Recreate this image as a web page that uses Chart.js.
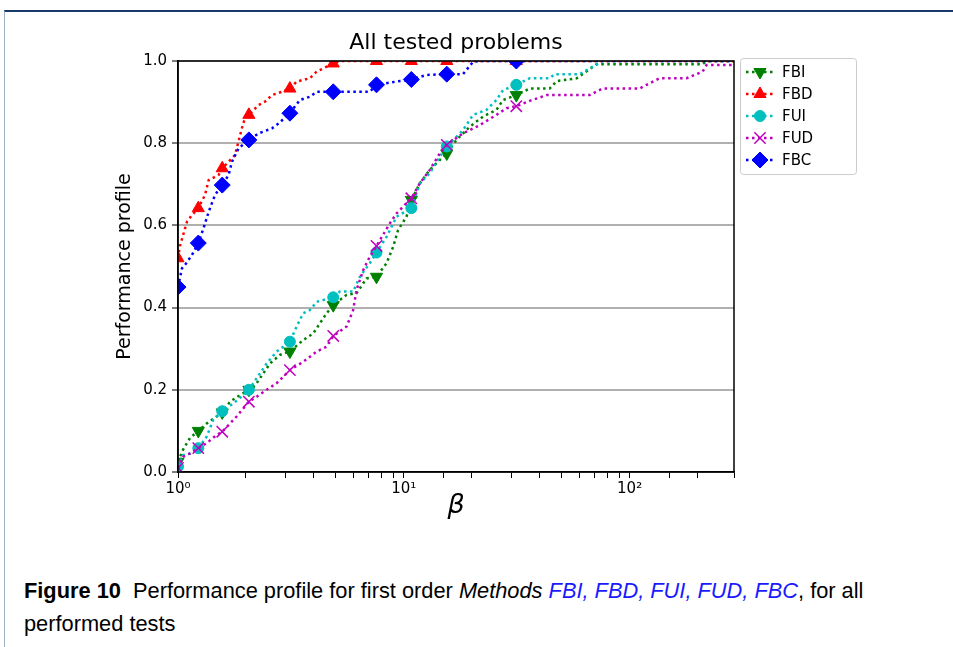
<!DOCTYPE html>
<html>
<head>
<meta charset="utf-8">
<script src="https://cdn.jsdelivr.net/npm/chart.js@4.4.1/dist/chart.umd.min.js"></script>
<style>
  html, body { margin: 0; padding: 0; background: #fff; }
  body { width: 953px; height: 647px; position: relative; overflow: hidden; }
  #frame { position: absolute; left: 4px; top: 10px; right: -2px; bottom: -2px; border-top: 2px solid #173a6a; border-left: 1px solid #9fb0c8; }
  #wrap { position: absolute; left: 0; top: 0; width: 953px; height: 540px; }
  #caption { position: absolute; left: 24px; top: 574px; width: 920px; font-family: 'Liberation Sans', sans-serif; font-size: 21.8px; line-height: 33px; color: #000; white-space: nowrap; }
  #caption .m { color: #1a1aff; font-style: italic; }
</style>
</head>
<body>
<div id="frame"></div>
<div id="wrap"><canvas id="chart" width="953" height="540"></canvas></div>
<div id="caption"><b>Figure 10</b>&nbsp; Performance profile for first order <i>Methods</i> <span class="m">FBI, FBD, FUI, FUD, FBC</span>, for all<br>performed tests</div>
<script>
// tick labels
const betaTicks = [1, 10, 100];
const betaTickLabels = ['10⁰', '10¹', '10²'];
const markerBeta = [1, 1.23, 1.57, 2.06, 3.13, 4.87, 7.57, 10.8, 15.5, 31.5];

// FBI
const fbiBeta = [1, 1.052, 1.13, 1.23, 1.34, 1.483, 1.57, 1.699, 1.818, 2.06, 2.23, 2.385, 2.554, 2.828, 3.13, 3.584, 3.97, 4.55, 4.87, 5.578, 6.176, 6.839, 7.57, 8.387, 8.971, 9.436, 10.28, 10.8, 11.77, 13.03, 14.43, 15.5, 17.11, 19.59, 22.44, 25.72, 27.51, 31.5, 36.1, 44.26, 47.53, 58.3, 71.45, 210.4, 219.1, 290];
const fbiValue = [0.025, 0.054, 0.083, 0.1, 0.118, 0.135, 0.145, 0.171, 0.182, 0.2, 0.216, 0.24, 0.264, 0.285, 0.293, 0.321, 0.337, 0.386, 0.406, 0.431, 0.435, 0.471, 0.475, 0.508, 0.548, 0.589, 0.621, 0.662, 0.702, 0.735, 0.759, 0.775, 0.808, 0.84, 0.865, 0.881, 0.905, 0.917, 0.933, 0.933, 0.951, 0.958, 0.992, 0.992, 1, 1];

// FBD
const fbdBeta = [1, 1.02, 1.096, 1.153, 1.23, 1.317, 1.367, 1.514, 1.57, 1.676, 1.788, 1.92, 1.979, 2.06, 2.276, 2.427, 2.606, 2.886, 3.13, 3.352, 3.838, 4.109, 4.706, 4.87, 5.21, 7.57, 10.8, 15.5, 31.5, 290];
const fbdValue = [0.52, 0.55, 0.609, 0.625, 0.642, 0.674, 0.71, 0.723, 0.739, 0.755, 0.771, 0.837, 0.861, 0.869, 0.893, 0.901, 0.917, 0.925, 0.933, 0.95, 0.958, 0.974, 0.99, 0.994, 1, 1, 1, 1, 1, 1];

// FUI
const fuiBeta = [1, 1.052, 1.13, 1.23, 1.34, 1.433, 1.57, 1.757, 1.945, 2.06, 2.23, 2.469, 2.734, 3.13, 3.352, 3.584, 3.838, 4.109, 4.87, 5.21, 5.967, 6.388, 7.072, 7.57, 8.387, 9.284, 10.8, 11.77, 13.03, 14.43, 15.5, 18.3, 20.26, 23.22, 25.72, 27.51, 31.5, 36.1, 44.26, 46.6, 60.09, 66.53, 75.94, 290];
const fuiValue = [0.013, 0.041, 0.045, 0.058, 0.086, 0.127, 0.148, 0.167, 0.187, 0.2, 0.228, 0.264, 0.293, 0.317, 0.354, 0.386, 0.394, 0.414, 0.425, 0.439, 0.439, 0.475, 0.508, 0.534, 0.572, 0.621, 0.642, 0.702, 0.727, 0.767, 0.792, 0.832, 0.869, 0.881, 0.905, 0.929, 0.942, 0.958, 0.958, 0.968, 0.968, 0.982, 1, 1];

// FUD
const fudBeta = [1, 1.052, 1.13, 1.23, 1.34, 1.483, 1.57, 1.699, 1.818, 2.06, 2.23, 2.469, 2.734, 3.13, 3.584, 4.109, 4.55, 4.87, 5.578, 5.967, 6.176, 6.607, 7.072, 7.57, 8.674, 9.284, 10.28, 10.8, 11.77, 13.03, 14.43, 15.5, 18.3, 21.7, 25.72, 28.47, 31.5, 36.1, 42.93, 66.53, 75.94, 110.7, 118.9, 135.8, 178.7, 210.4, 219.1, 290];
const fudValue = [0.01, 0.037, 0.045, 0.058, 0.07, 0.09, 0.098, 0.118, 0.135, 0.171, 0.183, 0.2, 0.216, 0.248, 0.268, 0.293, 0.305, 0.331, 0.354, 0.394, 0.443, 0.491, 0.524, 0.55, 0.605, 0.629, 0.654, 0.666, 0.702, 0.735, 0.775, 0.796, 0.824, 0.844, 0.869, 0.885, 0.89, 0.903, 0.917, 0.917, 0.933, 0.933, 0.942, 0.958, 0.958, 0.974, 0.99, 0.99];

// FBC
const fbcBeta = [1, 1.042, 1.074, 1.153, 1.23, 1.299, 1.367, 1.458, 1.57, 1.676, 1.734, 1.856, 2.06, 2.276, 2.606, 2.79, 3.13, 3.466, 3.838, 4.109, 4.87, 7.07, 7.57, 9.284, 10.8, 12.6, 15.5, 18.3, 20.26, 21.7, 31.5, 290];
const fbcValue = [0.45, 0.496, 0.504, 0.528, 0.557, 0.594, 0.633, 0.674, 0.698, 0.723, 0.755, 0.788, 0.808, 0.824, 0.836, 0.848, 0.873, 0.905, 0.913, 0.925, 0.925, 0.925, 0.942, 0.95, 0.955, 0.966, 0.968, 0.968, 0.998, 1, 1, 1];

const toPoints = (xs, ys) => xs.map((x, i) => ({ x, y: ys[i] }));
const isMarker = (x) => markerBeta.some((m) => Math.abs(m - x) < 1e-6);

const makeSeries = (label, xs, ys, color, style, radius, extra) => ({
  label,
  data: toPoints(xs, ys),
  borderColor: color,
  backgroundColor: color,
  borderWidth: 2.5,
  borderDash: [2.5, 3.5],
  borderCapStyle: 'butt',
  tension: 0,
  fill: false,
  clip: 0,
  pointStyle: style,
  markerRadius: radius,
  pointRadius: (ctx) => (ctx.raw && isMarker(ctx.raw.x) ? radius : 0),
  pointBorderWidth: 1,
  pointBackgroundColor: color,
  pointBorderColor: color,
  ...extra,
});

const datasets = [
  makeSeries('FBI', fbiBeta, fbiValue, '#008000', 'triangle', 7, { pointRotation: 180, order: 5 }),
  makeSeries('FBD', fbdBeta, fbdValue, '#ff0000', 'triangle', 7, { order: 4 }),
  makeSeries('FUI', fuiBeta, fuiValue, '#00bfbf', 'circle', 5.5, { order: 3 }),
  makeSeries('FUD', fudBeta, fudValue, '#bf00bf', 'crossRot', 8, { pointBorderWidth: 1.5, order: 2 }),
  makeSeries('FBC', fbcBeta, fbcValue, '#0000ff', 'rectRot', 8, { order: 1 }),
];

const framePlugin = {
  id: 'frame',
  afterDatasetsDraw(chart) {
    const { ctx, chartArea: a } = chart;
    ctx.save();
    ctx.strokeStyle = '#000';
    ctx.lineWidth = 1.5;
    ctx.strokeRect(a.left, a.top, a.right - a.left, a.bottom - a.top);
    ctx.restore();
  },
};

const boxLegend = {
  id: 'boxLegend',
  afterDraw(chart) {
    const { ctx, chartArea: a } = chart;
    const x0 = a.right + 6;
    const y0 = a.top - 3;
    ctx.save();
    ctx.fillStyle = 'rgba(255,255,255,0.8)';
    ctx.strokeStyle = '#cccccc';
    ctx.lineWidth = 1;
    ctx.beginPath();
    ctx.roundRect(x0 + 0.5, y0 + 0.5, 116, 116, 3);
    ctx.fill();
    ctx.stroke();
    chart.data.datasets.forEach((ds, i) => {
      const y = y0 + 14 + i * 22;
      ctx.strokeStyle = ds.borderColor;
      ctx.fillStyle = ds.borderColor;
      ctx.lineWidth = ds.borderWidth;
      ctx.setLineDash(ds.borderDash);
      ctx.beginPath();
      ctx.moveTo(x0 + 6, y);
      ctx.lineTo(x0 + 33, y);
      ctx.stroke();
      ctx.setLineDash([]);
      ctx.lineWidth = ds.pointBorderWidth;
      if (Chart.helpers && Chart.helpers.drawPoint) {
        Chart.helpers.drawPoint(ctx, {
          pointStyle: ds.pointStyle,
          rotation: ds.pointRotation || 0,
          radius: ds.markerRadius,
          borderWidth: ds.pointBorderWidth,
        }, x0 + 20, y);
      }
      ctx.fillStyle = '#000';
      ctx.font = '15px "DejaVu Sans"';
      ctx.textBaseline = 'middle';
      ctx.textAlign = 'left';
      ctx.fillText(ds.label, x0 + 42, y + 1);
    });
    ctx.restore();
  },
};

new Chart(document.getElementById('chart'), {
  type: 'line',
  data: { datasets },
  options: {
    responsive: false,
    animation: false,
    events: [],
    layout: { padding: { left: 0, right: 219, top: 30, bottom: 0 } },
    plugins: {
      legend: { display: false },
      tooltip: { enabled: false },
      title: {
        display: true,
        text: 'All tested problems',
        fullSize: false,
        color: '#000',
        font: { family: 'DejaVu Sans', size: 22, weight: 'normal', lineHeight: 1.2 },
        padding: { top: 0, bottom: 4.6 },
      },
    },
    scales: {
      x: {
        type: 'logarithmic',
        min: 1,
        max: 290,
        afterFit: (scale) => { scale.height = 68; },
        border: { display: true, color: '#000', width: 1.5 },
        grid: { drawOnChartArea: false, drawTicks: true, tickLength: 6, tickColor: '#000', tickWidth: 1 },
        ticks: {
          autoSkip: false,
          maxRotation: 0,
          color: '#000',
          padding: 2,
          font: { family: 'DejaVu Sans', size: 15 },
          callback: (value) => {
            const i = betaTicks.findIndex((t) => Math.abs(t - value) < 1e-9);
            return i >= 0 ? betaTickLabels[i] : '';
          },
        },
        title: {
          display: true,
          text: 'β',
          color: '#000',
          font: { family: 'DejaVu Sans', size: 27, style: 'italic', lineHeight: 1.2 },
          padding: { top: 0, bottom: 18 },
        },
      },
      y: {
        min: 0,
        max: 1,
        afterFit: (scale) => { scale.width = 178; },
        border: { display: true, color: '#000', width: 1.5 },
        grid: {
          color: (ctx) => (ctx.tick && ctx.tick.value === 0 ? 'rgba(0,0,0,0)' : '#b0b0b0'),
          lineWidth: 2,
          drawTicks: true,
          tickLength: 6,
          tickColor: '#000',
          tickWidth: 1,
        },
        ticks: {
          stepSize: 0.2,
          color: '#000',
          padding: 5,
          font: { family: 'DejaVu Sans', size: 15 },
          callback: (value) => value.toFixed(1),
        },
        title: {
          display: true,
          text: 'Performance profile',
          color: '#000',
          font: { family: 'DejaVu Sans', size: 19, lineHeight: 1.2 },
          padding: { top: 114, bottom: 0 },
        },
      },
    },
  },
  plugins: [framePlugin, boxLegend],
});
</script>
</body>
</html>
